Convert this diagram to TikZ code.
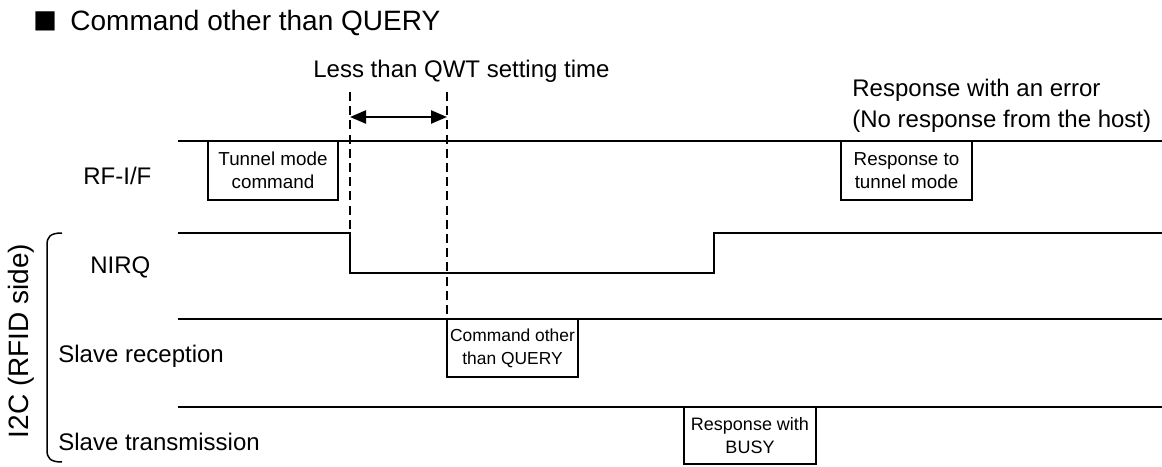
\documentclass[tikz,border=0pt]{standalone}
\usepackage{fontspec}
\setmainfont{Liberation Sans}
\newfontfamily\cjkfont{Noto Sans CJK JP}
\usetikzlibrary{arrows.meta}
\tikzset{
  wave/.style={line width=0.75pt},
  guide/.style={line width=0.75pt, dash pattern=on 4.5pt off 2.6pt},
  lbl/.style={inner sep=0pt, anchor=base west, font=\fontsize{12}{14}\selectfont},
  msgbox/.style={draw, line width=0.75pt, fill=white, inner sep=0pt, align=center,
    font=\fontsize{9.4}{11.5}\selectfont},
}
\begin{document}
\begin{tikzpicture}[x=0.5pt, y=-0.5pt]
\useasboundingbox (0,0) rectangle (1162,466);
% title
\node[inner sep=0pt, font=\cjkfont\fontsize{12}{14}\selectfont] (sq) at (45.5,21) {■};
\node[lbl, font=\fontsize{14}{16}\selectfont] (title) at (70,31) {Command other than QUERY};
% top annotations
\node[lbl] (qwt) at (313,77) {Less than QWT setting time};
\node[lbl, align=left, anchor=north west, font=\fontsize{12}{15.5}\selectfont] (err) at (852,79) {Response with an error\\(No response from the host)};
% row labels
\node[lbl] (rfif) at (83,184) {RF-I/F};
\node[lbl] (nirq) at (90,273) {NIRQ};
\node[lbl] (srx) at (58,362) {Slave reception};
\node[lbl] (stx) at (58,450) {Slave transmission};
\node[inner sep=0pt, rotate=90, font=\fontsize{14}{16}\selectfont] (i2c) at (21,341) {I2C (RFID side)};
% bracket
\draw[wave] (62,233) .. controls (50,233) and (47,237) .. (47,245) -- (47,450) .. controls (47,458) and (50,462) .. (62,462);
% RF-I/F line
\coordinate (rfA) at (178,141);
\coordinate (rfB) at (1162,141);
\draw[wave] (rfA) -- (rfB);
% NIRQ waveform
\coordinate (n0) at (178,233);
\coordinate (n1) at (350,233);
\coordinate (n2) at (350,273);
\coordinate (n3) at (714,273);
\coordinate (n4) at (714,233);
\coordinate (n5) at (1162,233);
\draw[wave] (n0) -- (n1) -- (n2) -- (n3) -- (n4) -- (n5);
% slave reception / transmission lines
\coordinate (srA) at (178,319);
\coordinate (srB) at (1162,319);
\draw[wave] (srA) -- (srB);
\coordinate (stA) at (178,407);
\coordinate (stB) at (1162,407);
\draw[wave] (stA) -- (stB);
% dashed guides
\coordinate (d1t) at (350,92);
\coordinate (d2t) at (447,92);
\coordinate (d2b) at (447,319);
\draw[guide] (d1t) -- (n1);
\draw[guide] (d2t) -- (d2b);
% arrow
\coordinate (a1) at (350,117);
\coordinate (a2) at (447,117);
\draw[line width=1.2pt, {Triangle[length=8pt,width=6.5pt]}-{Triangle[length=8pt,width=6.5pt]}] (a1) -- (a2);
% boxes
\node[msgbox, minimum width=65pt, minimum height=29.5pt] (tm) at (273,170.5) {Tunnel mode\\command};
\node[msgbox, minimum width=65.5pt, minimum height=29.5pt] (rt) at (906.5,170.5) {Response to\\tunnel mode};
\node[msgbox, minimum width=65.5pt, minimum height=29pt, font=\fontsize{8.7}{11.5}\selectfont] (co) at (512.5,348) {Command other\\than QUERY};
\node[msgbox, minimum width=66pt, minimum height=28.5pt, font=\fontsize{9}{11.5}\selectfont] (rb) at (750,435.5) {Response with\\BUSY};
\end{tikzpicture}
\end{document}
